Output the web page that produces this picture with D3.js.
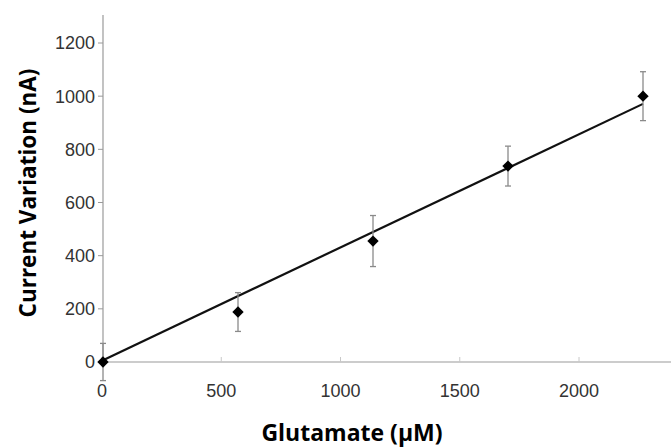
<!DOCTYPE html>
<html><head><meta charset="utf-8">
<script src="https://cdn.jsdelivr.net/npm/d3@7"></script>
<style>body{margin:0;background:#fff}svg{display:block}</style>
</head><body>
<svg id="c" width="671" height="447"></svg>
<script>
const concentrations = [0, 500, 1000, 1500, 2000];
const currents = [0, 188, 455, 737, 1000];
const errors = [70, 73, 96, 75, 92];
const fitSlope = 0.482;
const fitIntercept = 7;
const xTicks = [0, 500, 1000, 1500, 2000];
const yTicks = [0, 200, 400, 600, 800, 1000, 1200];
const xTitle = "Glutamate (μM)";
const yTitle = "Current Variation (nA)";

const svg = d3.select("#c");
const x = d3.scaleLinear().domain([0, 2000]).range([103, 643]);
const xLab = d3.scaleLinear().domain([0, 2000]).range([102, 579]);
const y = d3.scaleLinear().domain([0, 1200]).range([362, 43]);

const axisCol = "#9a9a9a";
svg.append("line").attr("x1", 103).attr("x2", 671).attr("y1", y(0)).attr("y2", y(0)).attr("stroke", axisCol).attr("stroke-width", 1.2);
svg.append("line").attr("x1", 103).attr("x2", 103).attr("y1", 15).attr("y2", y(0)).attr("stroke", axisCol).attr("stroke-width", 1.2);

const yg = svg.append("g");
yTicks.forEach(t => {
  yg.append("line").attr("x1", 98).attr("x2", 103).attr("y1", y(t)).attr("y2", y(t)).attr("stroke", axisCol);
  yg.append("text").attr("x", 95).attr("y", y(t)).attr("dy", "0.36em").attr("text-anchor", "end")
    .attr("font-family", "Liberation Sans, Arial, sans-serif").attr("font-size", 18).attr("fill", "#333").text(t);
});
const xg = svg.append("g");
xTicks.forEach(t => {
  xg.append("line").attr("x1", xLab(t)).attr("x2", xLab(t)).attr("y1", y(0) - 5).attr("y2", y(0)).attr("stroke", "#c8c8c8");
  xg.append("text").attr("x", xLab(t)).attr("y", 397).attr("text-anchor", "middle")
    .attr("font-family", "Liberation Sans, Arial, sans-serif").attr("font-size", 18).attr("fill", "#333").text(t);
});

svg.append("line")
  .attr("x1", x(0)).attr("y1", y(fitIntercept))
  .attr("x2", x(2000)).attr("y2", y(fitIntercept + fitSlope * 2000))
  .attr("stroke", "#111").attr("stroke-width", 2.2);

const data = concentrations.map((c, i) => ({c, v: currents[i], e: errors[i]}));
const eg = svg.append("g").attr("stroke", "#8a8a8a").attr("stroke-width", 1.3);
data.forEach(d => {
  eg.append("line").attr("x1", x(d.c)).attr("x2", x(d.c)).attr("y1", y(d.v + d.e)).attr("y2", y(d.v - d.e));
  eg.append("line").attr("x1", x(d.c) - 3).attr("x2", x(d.c) + 3).attr("y1", y(d.v + d.e)).attr("y2", y(d.v + d.e));
  eg.append("line").attr("x1", x(d.c) - 3).attr("x2", x(d.c) + 3).attr("y1", y(d.v - d.e)).attr("y2", y(d.v - d.e));
});

svg.append("g").selectAll("path").data(data).join("path")
  .attr("d", d3.symbol().type(d3.symbolSquare).size(64))
  .attr("transform", d => `translate(${x(d.c)},${y(d.v)}) rotate(45)`)
  .attr("fill", "#000");

svg.append("text").attr("x", 352).attr("y", 441).attr("text-anchor", "middle")
  .attr("font-family", "Open Sans, sans-serif").attr("font-weight", "bold").attr("font-size", 23).attr("fill", "#000").text(xTitle);
svg.append("text").attr("transform", "translate(36,193) rotate(-90)").attr("text-anchor", "middle")
  .attr("font-family", "Open Sans, sans-serif").attr("font-weight", "bold").attr("font-size", 22.5).attr("fill", "#000").text(yTitle);
</script>
</body></html>
